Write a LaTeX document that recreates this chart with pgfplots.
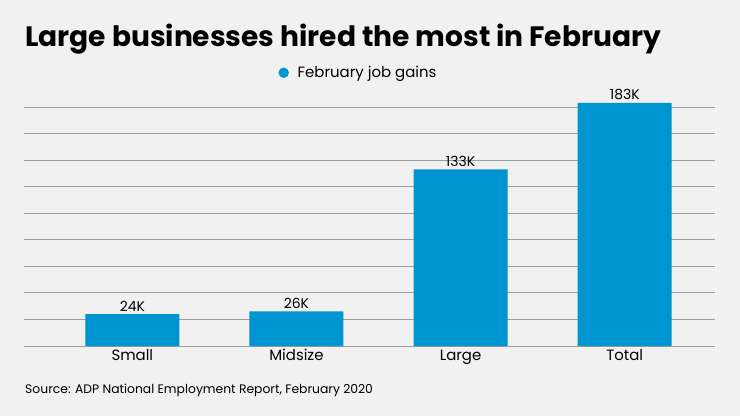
\documentclass[border=0pt]{standalone}
\usepackage{fontspec}
\setmainfont{Poppins}
\usepackage{pgfplots}
\pgfplotsset{compat=1.18}
\definecolor{bg}{HTML}{F0F1F0}
\definecolor{barblue}{HTML}{0094D0}
\definecolor{gridgray}{HTML}{9C9C9C}
\begin{document}
\begin{tikzpicture}
\fill[bg] (0,0) rectangle (740bp,416bp);
\node[anchor=base west, font=\fontsize{28.2}{34}\selectfont\bfseries, inner sep=0] at (25bp,369bp) {Large businesses hired the most in February};
\node[anchor=base west, font=\fontsize{12.4}{15}\selectfont, inner sep=0] at (25bp,23bp) {Source: ADP National Employment Report, February 2020};
\begin{axis}[
  at={(24bp,70bp)}, anchor=south west,
  scale only axis, width=691bp, height=252.3bp,
  xmin=-0.66, xmax=3.55, ymin=0, ymax=190,
  axis line style={draw=none},
  major tick length=0,
  ytick={0,20,...,180}, yticklabels={},
  ymajorgrids, grid style={gridgray, line width=0.8pt},
  xtick=data, xticklabels={Small,Midsize,Large,Total},
  xticklabel style={font=\fontsize{15}{18}\selectfont, anchor=base, yshift=-14bp},
  ybar, bar width=94bp,
  /pgf/number format/assume math mode=true,
  nodes near coords={\pgfmathprintnumber{\pgfplotspointmeta}K},
  every node near coord/.append style={font=\fontsize{14}{16}\selectfont, anchor=base, yshift=3bp, inner sep=0, text=black},
  legend style={draw=none, fill=none, at={(0.484,1.083)}, anchor=center, font=\fontsize{15}{18}\selectfont},
]
\addplot[fill=barblue, draw=none, legend image code/.code={\fill[barblue] (0bp,0bp) circle (5.2bp); \path (12bp,0bp);}] coordinates {(0,24) (1,26) (2,133) (3,183)};
\addlegendentry{February job gains}
\end{axis}
\end{tikzpicture}
\end{document}
